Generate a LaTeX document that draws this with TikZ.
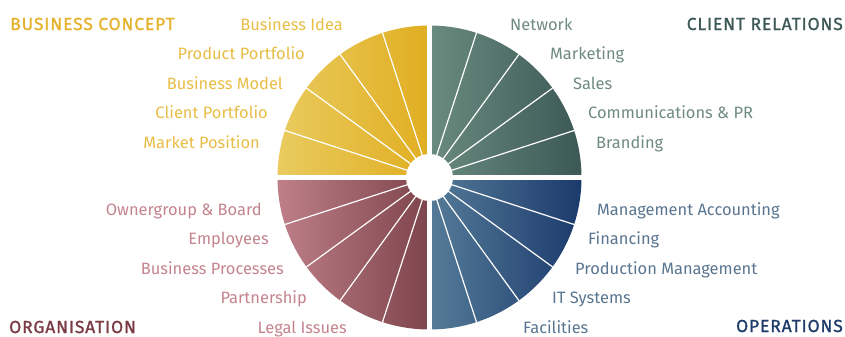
\documentclass[tikz,border=0pt]{standalone}
\usepackage{fontspec}
\setmainfont{Fira Sans}
\newfontfamily\ttlfont[LetterSpace=5,FakeBold=1.2]{Fira Sans}
\usetikzlibrary{positioning}
\definecolor{concL}{HTML}{E9CB5F}
\definecolor{concR}{HTML}{E1AE21}
\definecolor{concT}{HTML}{E8BD45}
\definecolor{concH}{HTML}{E4B22C}
\definecolor{clieL}{HTML}{6A8B7F}
\definecolor{clieR}{HTML}{3C5856}
\definecolor{clieT}{HTML}{6F8A80}
\definecolor{clieH}{HTML}{3E5955}
\definecolor{operL}{HTML}{557B98}
\definecolor{operR}{HTML}{1B3A6C}
\definecolor{operT}{HTML}{5A7590}
\definecolor{operH}{HTML}{1F3B6A}
\definecolor{orgaL}{HTML}{BE7F88}
\definecolor{orgaR}{HTML}{7E444B}
\definecolor{orgaT}{HTML}{C4838E}
\definecolor{orgaH}{HTML}{7A3B45}
\tikzset{lbl/.style={inner sep=0pt,font=\fontsize{16.5}{19}\selectfont},
  ttl/.style={inner sep=0pt,font=\ttlfont\fontsize{17.5}{20}\selectfont}}
\begin{document}
\begin{tikzpicture}[x=1bp, y=1bp]
\useasboundingbox (0,0) rectangle (845,336);
    \coordinate (O) at (429.5,158.5);
    % quadrants
    \shade[left color=concL, right color=concR] (O) -- ++(90:152) arc (90:180:152) -- cycle;
    \shade[left color=clieL, right color=clieR] (O) -- ++(0:152) arc (0:90:152) -- cycle;
    \shade[left color=operL, right color=operR] (O) -- ++(270:152) arc (270:360:152) -- cycle;
    \shade[left color=orgaL, right color=orgaR] (O) -- ++(180:152) arc (180:270:152) -- cycle;
    \foreach \a in {0,18,...,342}
        \draw[white, line width=1.2bp] (O) -- ++(\a:154);
    \foreach \a in {0,90,180,270}
        \draw[white, line width=4.6bp] (O) -- ++(\a:154);
    \fill[white] (O) circle (23.5);

    % business concept
    \node[ttl, text=concH, anchor=base west] (concept) at (10,306) {BUSINESS CONCEPT};
    \node[lbl, text=concT, anchor=base east] (idea) at (343,306) {Business Idea};
    \node[lbl, text=concT, anchor=base east] (product) at (305,276.5) {Product Portfolio};
    \node[lbl, text=concT, anchor=base east] (model) at (283,247) {Business Model};
    \node[lbl, text=concT, anchor=base east] (clientp) at (268,217.5) {Client Portfolio};
    \node[lbl, text=concT, anchor=base east] (market) at (260,188) {Market Position};

    % client relations
    \node[ttl, text=clieH, anchor=base east] (relations) at (843,306) {CLIENT RELATIONS};
    \node[lbl, text=clieT, anchor=base west] (network) at (510,306) {Network};
    \node[lbl, text=clieT, anchor=base west] (marketing) at (550,276.5) {Marketing};
    \node[lbl, text=clieT, anchor=base west] (sales) at (573,247) {Sales};
    \node[lbl, text=clieT, anchor=base west] (comms) at (588,217.5) {Communications \& PR};
    \node[lbl, text=clieT, anchor=base west] (branding) at (596,188) {Branding};

    % operations
    \node[ttl, text=operH, anchor=base east] (operations) at (843,4) {OPERATIONS};
    \node[lbl, text=operT, anchor=base west] (accounting) at (597,121) {Management Accounting};
    \node[lbl, text=operT, anchor=base west] (financing) at (588,91.5) {Financing};
    \node[lbl, text=operT, anchor=base west] (production) at (575,62) {Production Management};
    \node[lbl, text=operT, anchor=base west] (itsys) at (552,32.5) {IT Systems};
    \node[lbl, text=operT, anchor=base west] (facilities) at (523,3) {Facilities};

    % organisation
    \node[ttl, text=orgaH, anchor=base west] (organisation) at (9,3) {ORGANISATION};
    \node[lbl, text=orgaT, anchor=base east] (owners) at (262,121) {Ownergroup \& Board};
    \node[lbl, text=orgaT, anchor=base east] (employees) at (269,91.5) {Employees};
    \node[lbl, text=orgaT, anchor=base east] (processes) at (284,62) {Business Processes};
    \node[lbl, text=orgaT, anchor=base east] (partnership) at (307,32.5) {Partnership};
    \node[lbl, text=orgaT, anchor=base east] (legal) at (347,3) {Legal Issues};
\end{tikzpicture}
\end{document}
